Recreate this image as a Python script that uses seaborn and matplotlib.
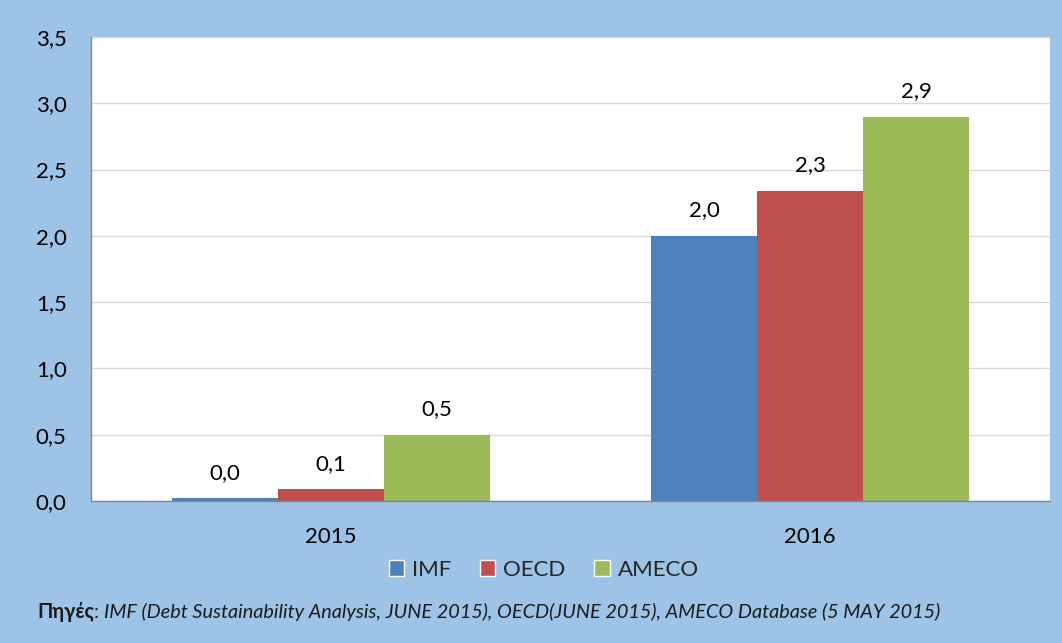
import pandas as pd
import numpy as np
import matplotlib
matplotlib.use("Agg")
import matplotlib.pyplot as plt
from matplotlib.ticker import FuncFormatter, FixedLocator
from matplotlib.patches import Patch
import seaborn as sns

sns.set_theme(style="white")
plt.rcParams['font.family'] = ['Lato', 'Noto Sans', 'DejaVu Sans']

# data
years = ['2015', '2016']
sources = ['IMF', 'OECD', 'AMECO']
imf = [0.02, 2.0]
oecd = [0.09, 2.34]
ameco = [0.5, 2.9]
colors = ['#4F81BD', '#C0504D', '#9BBB59']
bg = '#9DC3E6'

df = pd.DataFrame({
    'year': years * 3,
    'source': [s for s in sources for _ in years],
    'value': imf + oecd + ameco,
})

fig = plt.figure(figsize=(10.62, 6.43), dpi=100)
fig.patch.set_facecolor(bg)
ax = fig.add_axes([91 / 1062, 1 - 501 / 643, 959 / 1062, 464 / 643])
ax.set_facecolor('white')
ax.set_axisbelow(True)
ax.yaxis.grid(True, color='#D9D9D9', linewidth=1)

sns.barplot(data=df, x='year', y='value', hue='source', hue_order=sources,
            palette=colors, width=0.663, gap=0, saturation=1, legend=False,
            ax=ax, linewidth=0)

# value labels with greek decimal comma
for cont, src in zip(ax.containers, sources):
    vals = df[df['source'] == src]['value'].tolist()
    ax.bar_label(cont, labels=[f'{v:.1f}'.replace('.', ',') for v in vals],
                 padding=11, fontsize=16, color='black')

ax.set_ylim(0, 3.5)
ax.set_xlim(-0.5, 1.5)
ax.set_yticks(np.arange(0, 3.51, 0.5))
ax.yaxis.set_major_formatter(FuncFormatter(lambda v, p: f'{v:.1f}'.replace('.', ',')))

# category boundaries as ticks, labels in the middle
ax.xaxis.set_major_locator(FixedLocator([-0.5, 0.5, 1.5]))
ax.xaxis.set_minor_locator(FixedLocator([0, 1]))
ax.set_xticklabels(['', '', ''])
ax.set_xticklabels(years, minor=True)
ax.tick_params(axis='x', which='major', length=6.5, width=1, color='#868686', direction='out')
ax.tick_params(axis='x', which='minor', length=0, labelsize=16, pad=19, labelcolor='black')
ax.tick_params(axis='y', length=6.5, width=1, color='#868686', direction='out',
               labelsize=16, pad=11, labelcolor='black')
ax.set_xlabel('')
ax.set_ylabel('')

for side in ['top', 'right']:
    ax.spines[side].set_visible(False)
for side in ['left', 'bottom']:
    ax.spines[side].set_color('#868686')
    ax.spines[side].set_linewidth(1)

handles = [Patch(facecolor=c, label=s) for c, s in zip(colors, sources)]
fig.legend(handles=handles, loc='center', bbox_to_anchor=(0.512, 0.114), ncol=3,
           frameon=False, fontsize=16, handlelength=0.68, handleheight=0.68,
           handletextpad=0.36, columnspacing=1.3)

# source note: bold label + italic text
y_note = 1 - 612 / 643
t1 = fig.text(37 / 1062, y_note, 'Πηγές', fontsize=14.3, fontweight='bold',
              va='center', ha='left', color='#1a1a1a')
fig.canvas.draw()
bb = t1.get_window_extent()
t2 = fig.text(bb.x1 / 1062, y_note, ': ', fontsize=14.3, va='center', ha='left',
              color='#1a1a1a')
fig.canvas.draw()
bb2 = t2.get_window_extent()
fig.text(bb2.x1 / 1062, y_note,
         'IMF (Debt Sustainability Analysis, JUNE 2015), OECD(JUNE 2015), AMECO Database (5 MAY 2015)',
         fontsize=14.3, style='italic', va='center', ha='left', color='#1a1a1a')

fig.savefig('out.png', dpi=100, facecolor=bg)
